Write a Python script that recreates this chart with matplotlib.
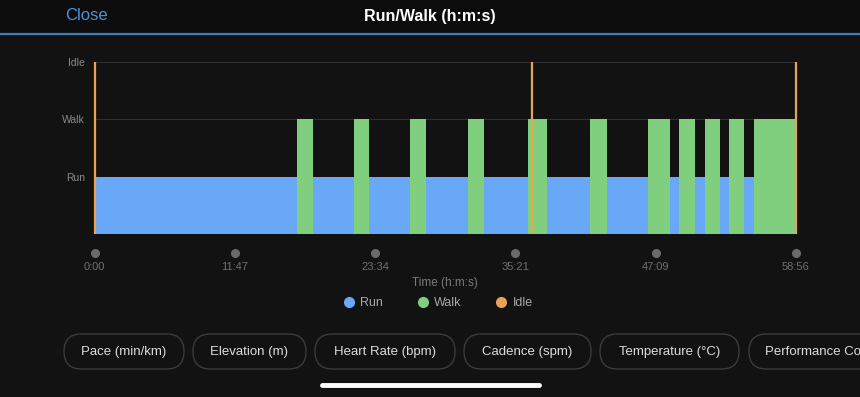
import matplotlib.pyplot as plt
from matplotlib.lines import Line2D
from matplotlib.patches import FancyBboxPatch, Rectangle

# segment boundaries in seconds and the state of each segment
seg_start = [0, 1022, 1101, 1308, 1384, 1592, 1673, 1883, 1962, 2186, 2283,
             2497, 2583, 2791, 2903, 2947, 3030, 3080, 3154, 3201, 3275, 3327]
seg_end = seg_start[1:] + [3536]
seg_state = ['Run', 'Walk'] * 11
idle_times = [0, 2207, 3536]

levels = {'Run': 1, 'Walk': 2, 'Idle': 3}
colors = {'Run': '#69a7f7', 'Walk': '#7fcf7e', 'Idle': '#e6a552'}

tick_pos = [0, 707, 1414, 2121, 2829, 3536]
tick_labels = ['0:00', '11:47', '23:34', '35:21', '47:09', '58:56']

buttons = ['Pace (min/km)', 'Elevation (m)', 'Heart Rate (bpm)',
           'Cadence (spm)', 'Temperature (°C)', 'Performance Condition']
button_left = [64, 193, 315, 464, 600, 749]
button_right = [184, 306, 455, 591, 739, 900]

plt.rcParams['font.family'] = ['Liberation Sans', 'DejaVu Sans']
BG = '#121212'
W, H = 860, 397

fig = plt.figure(figsize=(W / 100, H / 100), dpi=100, facecolor=BG)

# overlay in pixel coordinates for the app chrome
ui = fig.add_axes([0, 0, 1, 1])
ui.set_xlim(0, W)
ui.set_ylim(H, 0)
ui.axis('off')
ui.add_patch(Rectangle((0, 0), W, 33, color='#0c0c0c', lw=0))
ui.plot([0, W], [34, 34], color='#3d80b2', lw=1.6)
ui.text(86, 16, 'Close', color='#4a94d6', fontsize=12, ha='center', va='center')
ui.text(430, 17, 'Run/Walk (h:m:s)', color='white', fontsize=11.5,
        fontweight='bold', ha='center', va='center')

for label, l, r in zip(buttons, button_left, button_right):
    ui.add_patch(FancyBboxPatch((l, 334), r - l, 35,
                                boxstyle='round,pad=0,rounding_size=17.5',
                                fc='none', ec='#3b3b3b', lw=1))
    # the last pill runs off the right edge of the screen
    last = r > W
    ui.text(l + 16 if last else (l + r) / 2, 352, label, color='#dcdcdc',
            fontsize=9.5, ha='left' if last else 'center', va='center')

ui.plot([322, 539], [385, 385], color='white', lw=3.5, solid_capstyle='round')

# chart
ax = fig.add_axes([94.7 / W, 163 / H, 701 / W, 172 / H], facecolor=BG)
for s, e, st in zip(seg_start, seg_end, seg_state):
    ax.bar(s, levels[st], width=e - s, align='edge', color=colors[st], lw=0)
ax.vlines(idle_times, 0, levels['Idle'], color=colors['Idle'], lw=1.6,
          clip_on=False, zorder=3)

for y in [2, 3]:
    ax.axhline(y, color='#2f2f2f', lw=0.8, zorder=0)

ax.set_xlim(0, 3536)
ax.set_ylim(0, 3)
for sp in ax.spines.values():
    sp.set_visible(False)

ax.plot(tick_pos, [-0.33] * len(tick_pos), 'o', color='#6b6b6b', ms=5.5,
        clip_on=False)
ax.set_xticks(tick_pos, tick_labels)
ax.set_yticks([1, 2, 3], ['Run', 'Walk', 'Idle'])
ax.tick_params(axis='x', length=0, pad=20, colors='#707070', labelsize=8)
ax.tick_params(axis='y', length=0, pad=7, colors='#8a8a8a', labelsize=7.5)

fig.text(445 / W, 1 - 283 / H, 'Time (h:m:s)', color='#7a7a7a', fontsize=8.5,
         ha='center', va='center')

handles = [Line2D([], [], ls='none', marker='o', ms=7, color=colors[k],
                  label=k) for k in ['Run', 'Walk', 'Idle']]
leg = fig.legend(handles=handles, loc='center', ncol=3, frameon=False,
                 bbox_to_anchor=(437 / W, 1 - 303 / H), fontsize=9,
                 handletextpad=0.3, columnspacing=2.6, handlelength=1.2)
for t in leg.get_texts():
    t.set_color('#a8a8a8')

fig.savefig('out.png', dpi=100, facecolor=BG)
